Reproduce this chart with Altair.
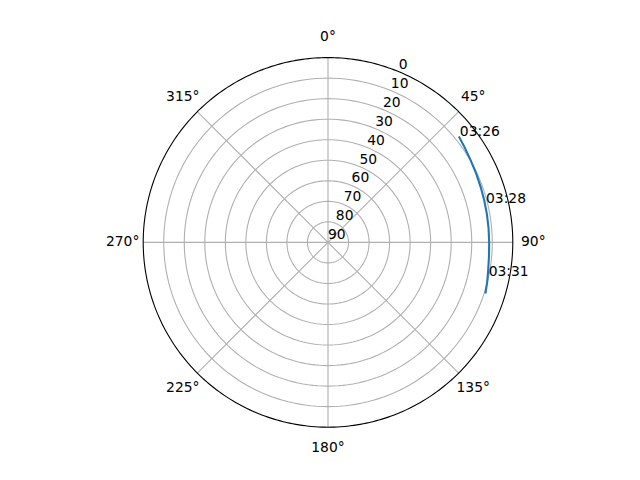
import altair as alt
import pandas as pd

# ---- data ----
trace_az = [51, 55, 60, 65, 70, 75, 80, 85, 90, 95, 100, 104, 108]
trace_el = [8.0, 8.9, 9.8, 10.4, 10.9, 11.2, 11.4, 11.5, 11.5, 11.3, 10.8, 10.1, 9.4]

label_times = ["03:26", "03:28", "03:31"]
label_az = [51, 76, 102]
label_el = [8.0, 11.2, 10.5]

grid_el = [10, 20, 30, 40, 50, 60, 70, 80]
spoke_az = [0, 45, 90, 135, 180, 225, 270, 315]
spoke_labels = ["0°", "45°", "90°", "135°", "180°", "225°", "270°", "315°"]
rtick_values = [0, 10, 20, 30, 40, 50, 60, 70, 80, 90]
rtick_labels = ["0", "10", "20", "30", "40", "50", "60", "70", "80", "90"]
rlabel_angle = 22.5

FONT = "DejaVu Sans"
FS = 13.9

PX = "(90 - datum.el) * sin(datum.az * PI / 180)"
PY = "(90 - datum.el) * cos(datum.az * PI / 180)"

sc = alt.Scale(domain=[-90, 90], nice=False, zero=False)
X = alt.X("px:Q", scale=sc, axis=None)
Y = alt.Y("py:Q", scale=sc, axis=None)

# grid rings
rings = (
    alt.Chart(pd.DataFrame({"el": grid_el}))
    .transform_calculate(az="sequence(0, 362, 2)")
    .transform_flatten(["az"])
    .transform_calculate(px=PX, py=PY)
    .mark_line(color="#b0b0b0", strokeWidth=1.1)
    .encode(x=X, y=Y, detail="el:N", order=alt.Order("az:Q"))
)

# outer spine (elevation 0)
spine = (
    alt.Chart(pd.DataFrame({"el": [0]}))
    .transform_calculate(az="sequence(0, 361, 1)")
    .transform_flatten(["az"])
    .transform_calculate(px=PX, py=PY)
    .mark_line(color="black", strokeWidth=1.1)
    .encode(x=X, y=Y, detail="el:N", order=alt.Order("az:Q"))
)

# spokes
spokes = (
    alt.Chart(pd.DataFrame({"az": spoke_az, "el": [0] * len(spoke_az)}))
    .transform_calculate(px=PX, py=PY, x0="0", y0="0")
    .mark_rule(color="#b0b0b0", strokeWidth=1.1)
    .encode(x=alt.X("x0:Q", scale=sc, axis=None), y=alt.Y("y0:Q", scale=sc, axis=None),
            x2="px:Q", y2="py:Q")
)

# angular labels
ang_labels = (
    alt.Chart(pd.DataFrame({"az": spoke_az, "el": [-10] * len(spoke_az), "lab": spoke_labels}))
    .transform_calculate(px=PX, py=PY)
    .mark_text(font=FONT, fontSize=FS, align="center", baseline="middle", color="black")
    .encode(x=X, y=Y, text="lab:N")
)

# radial labels
r_labels = (
    alt.Chart(pd.DataFrame({"az": [rlabel_angle] * len(rtick_values), "el": rtick_values, "lab": rtick_labels}))
    .transform_calculate(px=PX, py=PY)
    .mark_text(font=FONT, fontSize=FS, align="left", baseline="alphabetic", dy=-3, color="black")
    .encode(x=X, y=Y, text="lab:N")
)

# satellite track
track = (
    alt.Chart(pd.DataFrame({"az": trace_az, "el": trace_el}))
    .transform_calculate(px=PX, py=PY)
    .mark_line(color="#1f77b4", strokeWidth=2.1)
    .encode(x=X, y=Y, order=alt.Order("az:Q"))
)

time_labels = (
    alt.Chart(pd.DataFrame({"az": label_az, "el": label_el, "lab": label_times}))
    .transform_calculate(px=PX, py=PY)
    .mark_text(font=FONT, fontSize=FS, align="left", baseline="alphabetic", dx=1, color="black")
    .encode(x=X, y=Y, text="lab:N")
)

chart = (
    alt.layer(rings, spokes, spine, track, r_labels, ang_labels, time_labels)
    .properties(
        width=369.6,
        height=369.6,
        autosize=alt.AutoSizeParams(type="none"),
        padding={"left": 135.2, "top": 49.6, "right": 100, "bottom": 40},
        background="white",
    )
    .configure_view(stroke=None)
)

chart.save("out.html", embed_options={"renderer": "svg", "actions": False})
